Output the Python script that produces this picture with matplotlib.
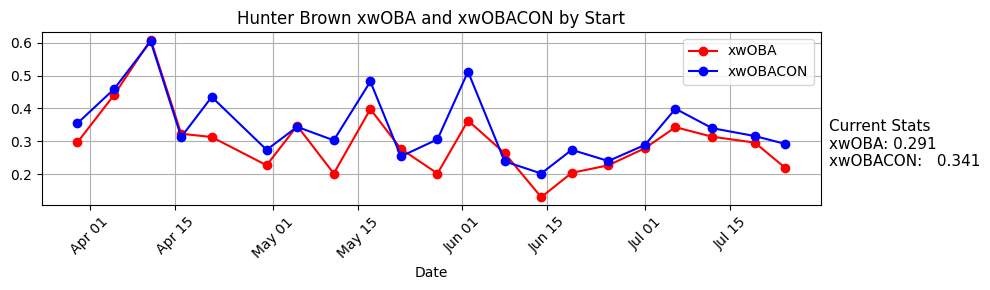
import pandas as pd
import matplotlib
matplotlib.use('Agg')
import matplotlib.pyplot as plt
import matplotlib.dates as mdates

# start dates and per-start values
dates = ['2025-03-30', '2025-04-05', '2025-04-11', '2025-04-16', '2025-04-21',
         '2025-04-30', '2025-05-05', '2025-05-11', '2025-05-17', '2025-05-22',
         '2025-05-28', '2025-06-02', '2025-06-08', '2025-06-14', '2025-06-19',
         '2025-06-25', '2025-07-01', '2025-07-06', '2025-07-12', '2025-07-19',
         '2025-07-24']
xwoba = [0.297, 0.441, 0.609, 0.323, 0.313, 0.227, 0.347, 0.202, 0.398, 0.277,
         0.202, 0.363, 0.264, 0.130, 0.204, 0.227, 0.279, 0.343, 0.314, 0.296,
         0.219]
xwobacon = [0.355, 0.459, 0.604, 0.313, 0.435, 0.274, 0.344, 0.303, 0.482, 0.254,
            0.306, 0.512, 0.239, 0.202, 0.274, 0.240, 0.289, 0.399, 0.340, 0.316,
            0.292]
cur_xwoba = 0.291
cur_xwobacon = 0.341

df = pd.DataFrame({'date': pd.to_datetime(dates), 'xwOBA': xwoba, 'xwOBACON': xwobacon})

fig, ax = plt.subplots(figsize=(9.9, 2.9), dpi=100)
ax.plot(df['date'], df['xwOBA'], 'o-', color='red', label='xwOBA')
ax.plot(df['date'], df['xwOBACON'], 'o-', color='blue', label='xwOBACON')
ax.set_title('Hunter Brown xwOBA and xwOBACON by Start')
ax.set_xlabel('Date')
ax.xaxis.set_major_locator(mdates.DayLocator(bymonthday=[1, 15]))
ax.xaxis.set_major_formatter(mdates.DateFormatter('%b %d'))
plt.setp(ax.get_xticklabels(), rotation=45)
ax.grid(True)
ax.legend(loc='upper right')

fig.subplots_adjust(left=0.0425, right=0.829, top=0.89, bottom=0.293)
fig.text(0.837, 0.503, 'Current Stats\nxwOBA: %.3f\nxwOBACON:   %.3f' % (cur_xwoba, cur_xwobacon),
         fontsize=11, va='center', ha='left')

fig.savefig('out.png')
